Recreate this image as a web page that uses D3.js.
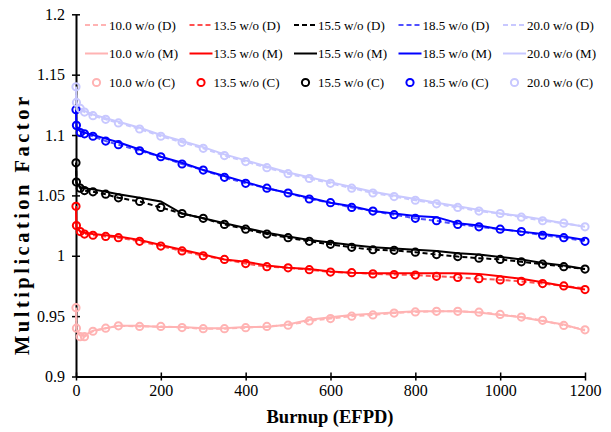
<!DOCTYPE html>
<html><head><meta charset="utf-8">
<script src="https://cdn.jsdelivr.net/npm/d3@7"></script>
<style>body{margin:0;background:#fff}svg{display:block}text{font-family:"Liberation Serif","Times New Roman",serif}</style>
</head><body><svg id="c" width="611" height="432"></svg>
<script>
const burnup = [0,1,10,20,40,70,100,150,200,250,300,350,400,450,500,550,600,650,700,750,800,850,900,950,1000,1050,1100,1150,1200];
const xTicks = [0,200,400,600,800,1000,1200];
const yTicks = [0.9,0.95,1,1.05,1.1,1.15,1.2];
const enrich = ["10.0","13.5","15.5","18.5","20.0"];

const k10D = [0.957,0.940,0.933,0.933,0.9375,0.940,0.942,0.9415,0.9415,0.9405,0.9396,0.9396,0.9404,0.9415,0.9425,0.946,0.948,0.950,0.951,0.9525,0.9535,0.954,0.954,0.9533,0.9514,0.9492,0.9465,0.9423,0.9387];
const k10M = [0.957,0.939,0.934,0.934,0.938,0.940,0.942,0.942,0.941,0.941,0.940,0.940,0.941,0.941,0.943,0.947,0.949,0.951,0.952,0.953,0.954,0.954,0.954,0.953,0.951,0.949,0.946,0.943,0.938];
const k10C = [0.957,0.940,0.933,0.933,0.9375,0.940,0.942,0.9415,0.9415,0.9405,0.9396,0.9396,0.9404,0.9415,0.9425,0.946,0.948,0.950,0.951,0.9525,0.9535,0.954,0.954,0.9533,0.9514,0.9492,0.9465,0.9423,0.9387];

const k135D = [1.041,1.025,1.020,1.018,1.017,1.016,1.015,1.012,1.008,1.004,1.000,0.997,0.9935,0.991,0.990,0.9885,0.9865,0.986,0.985,0.9845,0.984,0.983,0.982,0.981,0.980,0.9788,0.977,0.975,0.973];
const k135M = [1.041,1.024,1.020,1.019,1.018,1.017,1.016,1.013,1.009,1.005,1.001,0.997,0.995,0.992,0.990,0.989,0.987,0.986,0.9855,0.9855,0.9855,0.9855,0.9855,0.985,0.983,0.981,0.978,0.975,0.972];
const k135C = [1.041,1.025,1.020,1.018,1.017,1.016,1.015,1.012,1.008,1.004,1.000,0.997,0.9935,0.991,0.990,0.9885,0.9865,0.986,0.985,0.9845,0.984,0.983,0.982,0.981,0.980,0.9788,0.977,0.975,0.972];

const k155D = [1.077,1.061,1.056,1.054,1.053,1.051,1.048,1.045,1.040,1.035,1.031,1.026,1.022,1.018,1.015,1.012,1.0095,1.007,1.005,1.0045,1.003,1.001,0.9993,0.998,0.997,0.995,0.993,0.991,0.989];
const k155M = [1.077,1.060,1.057,1.056,1.055,1.053,1.051,1.048,1.045,1.035,1.031,1.027,1.023,1.019,1.016,1.013,1.011,1.009,1.007,1.006,1.005,1.004,1.002,1.001,0.999,0.997,0.994,0.992,0.989];
const k155C = [1.077,1.061,1.056,1.054,1.053,1.051,1.048,1.045,1.040,1.035,1.031,1.026,1.022,1.018,1.015,1.012,1.0095,1.007,1.005,1.0045,1.003,1.001,0.9993,0.998,0.997,0.995,0.993,0.991,0.989];

const k185D = [1.121,1.108,1.102,1.101,1.099,1.095,1.092,1.087,1.082,1.076,1.071,1.065,1.060,1.056,1.052,1.047,1.044,1.040,1.037,1.034,1.031,1.029,1.026,1.024,1.022,1.020,1.017,1.015,1.012];
const k185M = [1.121,1.107,1.103,1.102,1.100,1.097,1.094,1.088,1.082,1.077,1.071,1.066,1.061,1.056,1.052,1.048,1.044,1.041,1.037,1.035,1.033,1.032,1.027,1.025,1.022,1.020,1.018,1.016,1.013];
const k185C = [1.121,1.108,1.102,1.101,1.099,1.095,1.092,1.087,1.082,1.076,1.071,1.065,1.060,1.056,1.052,1.047,1.044,1.040,1.037,1.034,1.031,1.029,1.026,1.024,1.022,1.020,1.017,1.015,1.012];

const k200D = [1.140,1.127,1.122,1.119,1.116,1.113,1.110,1.105,1.099,1.094,1.089,1.083,1.078,1.073,1.068,1.064,1.060,1.056,1.052,1.049,1.046,1.043,1.040,1.037,1.035,1.032,1.029,1.027,1.024];
const k200M = [1.140,1.126,1.122,1.120,1.117,1.114,1.111,1.106,1.100,1.095,1.090,1.084,1.079,1.074,1.069,1.065,1.061,1.057,1.053,1.050,1.047,1.044,1.041,1.038,1.035,1.033,1.030,1.027,1.024];
const k200C = [1.140,1.127,1.122,1.119,1.116,1.113,1.110,1.105,1.099,1.094,1.089,1.083,1.078,1.073,1.068,1.064,1.060,1.056,1.052,1.049,1.046,1.043,1.040,1.037,1.035,1.032,1.029,1.027,1.024];

const colM = ["#ffb3b3","#ff0000","#000000","#0000ff","#c8c8ff"];
const colD = ["#ffb3b3","#ff5050","#000000","#5050ff","#c8c8ff"];
const dataD = [k10D,k135D,k155D,k185D,k200D];
const dataM = [k10M,k135M,k155M,k185M,k200M];
const dataC = [k10C,k135C,k155C,k185C,k200C];

const svg = d3.select("#c");
const x = d3.scaleLinear().domain([0,1200]).range([76,585]);
const y = d3.scaleLinear().domain([0.9,1.2]).range([376.5,14.3]);

const xAxis = svg.append("g").attr("transform",`translate(0,${y(0.9)})`)
  .call(d3.axisBottom(x).tickValues(xTicks).tickFormat(d=>d).tickSize(4).tickSizeOuter(0));
const yAxis = svg.append("g").attr("transform",`translate(${x(0)},0)`)
  .call(d3.axisLeft(y).tickValues(yTicks).tickFormat(d=>d3.format("")(d)).tickSize(4).tickSizeOuter(0));
[xAxis,yAxis].forEach(g=>{
  g.select(".domain").attr("stroke","#000").attr("stroke-width",2);
  g.selectAll(".tick line").attr("stroke","#000").attr("stroke-width",1.5);
  g.selectAll(".tick text").attr("font-family","Liberation Serif").attr("font-size",16).attr("fill","#000");
});
xAxis.selectAll(".tick line").attr("y1",-4).attr("y2",4);
xAxis.selectAll(".tick text").attr("y",8);
yAxis.selectAll(".tick line").attr("x1",-4).attr("x2",4);
yAxis.selectAll(".tick text").attr("x",-11);

const line = d3.line().x((d,i)=>x(burnup[i])).y(d=>y(d));

dataD.forEach((arr,k)=>{
  svg.append("path").datum(arr).attr("d",line).attr("fill","none")
    .attr("stroke",colD[k]).attr("stroke-width",2).attr("stroke-dasharray","5,3");
});
dataM.forEach((arr,k)=>{
  svg.append("path").datum(arr).attr("d",line).attr("fill","none")
    .attr("stroke",colM[k]).attr("stroke-width",2);
});
dataC.forEach((arr,k)=>{
  svg.append("g").selectAll("circle").data(arr).join("circle")
    .attr("cx",(d,i)=>x(burnup[i])).attr("cy",d=>y(d)).attr("r",3.6)
    .attr("fill","none").attr("stroke",colM[k]).attr("stroke-width",2);
});

svg.append("text").attr("x",330).attr("y",423).attr("text-anchor","middle")
  .attr("font-size",18.5).attr("font-weight","bold").text("Burnup (EFPD)");
svg.append("text").attr("transform","translate(29,226) rotate(-90)").attr("text-anchor","middle")
  .attr("font-size",20.5).attr("font-weight","bold").attr("textLength",258).attr("lengthAdjust","spacing")
  .text("Multiplication Factor");

const rows = [{t:"D",y:25},{t:"M",y:53.5},{t:"C",y:82.5}];
enrich.forEach((e,k)=>{
  const x0 = 85 + k*104.5;
  rows.forEach(r=>{
    const g = svg.append("g");
    if(r.t==="D"){
      g.append("line").attr("x1",x0).attr("x2",x0+23).attr("y1",r.y).attr("y2",r.y)
        .attr("stroke",colD[k]).attr("stroke-width",2).attr("stroke-dasharray","5,3");
    } else if(r.t==="M"){
      g.append("line").attr("x1",x0).attr("x2",x0+23).attr("y1",r.y).attr("y2",r.y)
        .attr("stroke",colM[k]).attr("stroke-width",2);
    } else {
      g.append("circle").attr("cx",x0+11.5).attr("cy",r.y).attr("r",3.6)
        .attr("fill","none").attr("stroke",colM[k]).attr("stroke-width",2);
    }
    g.append("text").attr("x",x0+24).attr("y",r.y+4.5).attr("font-size",13).attr("fill","#000")
      .text(`${e} w/o (${r.t})`);
  });
});
</script></body></html>
